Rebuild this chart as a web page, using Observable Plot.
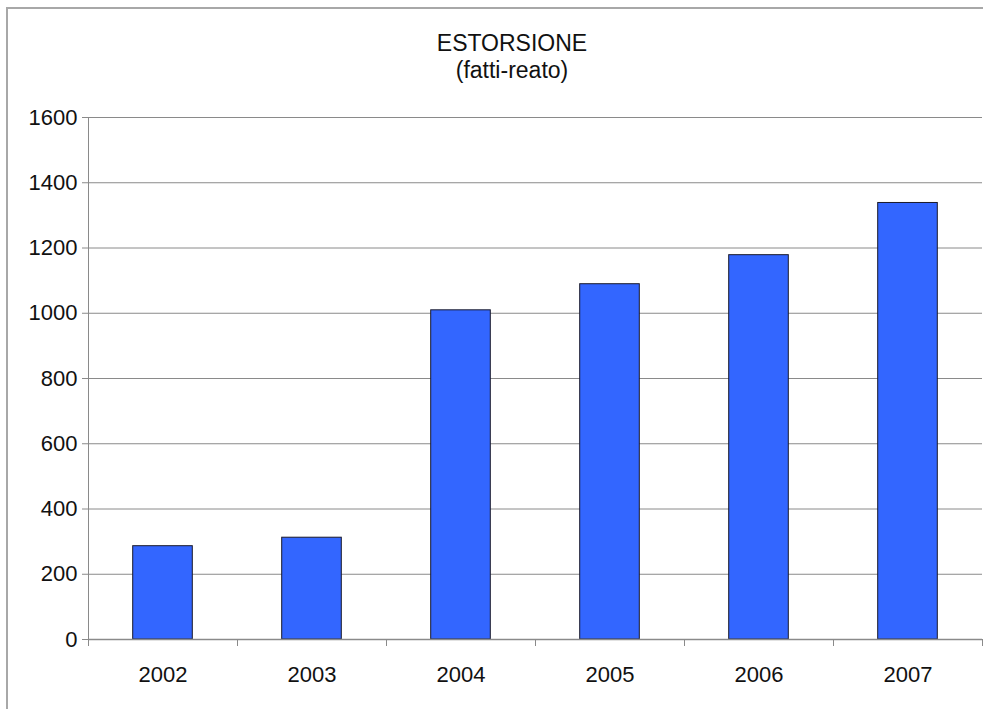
<!DOCTYPE html>
<html>
<head>
<meta charset="utf-8">
<script src="https://cdn.jsdelivr.net/npm/d3@7"></script>
<script src="https://cdn.jsdelivr.net/npm/@observablehq/plot@0.6"></script>
<style>
  html, body { margin: 0; padding: 0; background: #fff; }
  body { width: 983px; height: 709px; overflow: hidden; position: relative; font-family: "Liberation Sans", Arial, sans-serif; }
  #border { position: absolute; left: 6px; top: 7px; width: 2000px; height: 2000px; border-left: 2px solid #a8a8a8; border-top: 2px solid #a8a8a8; }
  .ttl { position: absolute; left: 362px; width: 300px; text-align: center; font-size: 23px; line-height: 23px; color: #111; }
  #chart { position: absolute; left: 0; top: 0; }
</style>
</head>
<body>
<div id="border"></div>
<div class="ttl" style="top:32px">ESTORSIONE</div>
<div class="ttl" style="top:59px">(fatti-reato)</div>
<div id="chart"></div>
<script>
const years = ["2002", "2003", "2004", "2005", "2006", "2007"];
const values = [286, 312, 1009, 1089, 1178, 1338];
const yTicks = [0, 200, 400, 600, 800, 1000, 1200, 1400, 1600];

const data = years.map((year, i) => ({year, index: i, value: values[i]}));

const chart = Plot.plot({
  width: 983,
  height: 709,
  marginLeft: 88,
  marginRight: 1,
  marginTop: 117,
  marginBottom: 70,
  style: {fontFamily: "'Liberation Sans', Arial, sans-serif", fontSize: "22px", color: "#111", background: "transparent"},
  x: {type: "linear", domain: [0, years.length], axis: null, label: null},
  y: {domain: [0, 1600], axis: null, label: null},
  marks: [
    Plot.ruleY(yTicks, {stroke: "#8a8a8a", strokeWidth: 1, strokeOpacity: 1}),
    Plot.axisY({ticks: yTicks, tickSize: 6, tickPadding: 5, tickFormat: d => String(d), label: null, stroke: "#8a8a8a", strokeOpacity: 1, fontSize: 22, fill: "#111"}),
    Plot.axisX({ticks: d3.range(0, years.length + 1), tickSize: 7, tickFormat: () => "", label: null, stroke: "#8a8a8a", strokeOpacity: 1}),
    Plot.axisX({ticks: years.map((_, i) => i + 0.5), tickSize: 0, tickPadding: 27, tickFormat: v => years[Math.floor(v)], label: null, fontSize: 22, fill: "#111"}),
    Plot.rectY(data, {x1: d => d.index + 0.3, x2: d => d.index + 0.7, y: "value", fill: "#3366FF", stroke: "#1a1a2a", strokeWidth: 1}),
    Plot.frame({anchor: "left", stroke: "#8a8a8a", strokeOpacity: 1}),
    Plot.ruleY([0], {stroke: "#8a8a8a", strokeWidth: 1.5})
  ]
});
document.getElementById("chart").appendChild(chart);
</script>
</body>
</html>
